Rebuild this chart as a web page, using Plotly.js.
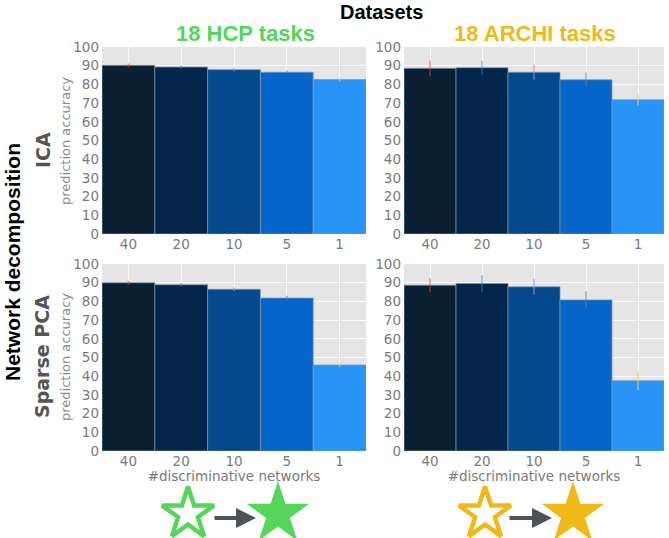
<!DOCTYPE html>
<html>
<head>
<meta charset="utf-8">
<script src="https://cdn.plot.ly/plotly-3.0.1.min.js"></script>
<style>html,body{margin:0;padding:0;background:#fff;}#chart{width:669px;height:538px;}</style>
</head>
<body>
<div id="chart"></div>
<script>
const categories = ["40", "20", "10", "5", "1"];
const hcpIca = [90.2, 89.3, 87.9, 86.5, 82.6];
const hcpIcaErr = [1.0, 0.8, 0.9, 0.9, 1.0];
const archiIca = [88.6, 88.9, 86.5, 82.5, 71.8];
const archiIcaErr = [4.2, 3.8, 4.0, 3.8, 3.0];
const hcpSpca = [90.0, 88.9, 86.5, 81.8, 46.0];
const hcpSpcaErr = [1.0, 0.9, 1.0, 1.2, 1.2];
const archiSpca = [88.7, 89.6, 87.8, 80.8, 37.6];
const archiSpcaErr = [3.8, 4.4, 4.3, 4.6, 5.0];
const barColors = ["#0b1f33", "#03264a", "#03498b", "#0565c8", "#2894f7"];
const errColors = ["rgba(226,74,51,0.55)", "rgba(52,138,189,0.55)", "rgba(152,142,213,0.7)", "rgba(119,119,119,0.6)", "rgba(251,193,94,0.7)"];
const yTicks = [0, 10, 20, 30, 40, 50, 60, 70, 80, 90, 100];
const xTitle = "#discriminative networks";
const yTitle = "prediction accuracy";

const W = 669, H = 538;
const panels = [
  {vals: hcpIca, err: hcpIcaErr, xa: "x", ya: "y"},
  {vals: archiIca, err: archiIcaErr, xa: "x2", ya: "y2"},
  {vals: hcpSpca, err: hcpSpcaErr, xa: "x3", ya: "y3"},
  {vals: archiSpca, err: archiSpcaErr, xa: "x4", ya: "y4"}
];
const traces = [];
panels.forEach(p => {
  traces.push({
    type: "bar", x: categories, y: p.vals, xaxis: p.xa, yaxis: p.ya,
    marker: {color: barColors, line: {color: "rgba(130,150,175,0.7)", width: 1}},
    showlegend: false, hoverinfo: "skip"
  });
  categories.forEach((c, i) => {
    traces.push({
      type: "scatter", mode: "markers", x: [c], y: [p.vals[i]], xaxis: p.xa, yaxis: p.ya,
      marker: {opacity: 0, size: 1},
      error_y: {type: "data", array: [p.err[i]], visible: true, color: errColors[i], thickness: 1.5, width: 0},
      showlegend: false, hoverinfo: "skip"
    });
  });
});

// decorative stars (pixel positions on an overlay axis in the bottom strip)
const starX = [188, 278, 485, 573];
const starY = [514, 514, 514, 514];
const starFill = ["#ffffff", "#55d65a", "#ffffff", "#f0b917"];
const starLine = ["#55d65a", "#55d65a", "#f0b917", "#f0b917"];
const starLineW = [4.5, 0, 4.5, 0];
traces.push({
  type: "scatter", mode: "markers", x: starX, y: starY, xaxis: "x5", yaxis: "y5",
  marker: {symbol: "star", size: [39, 47, 39, 47], color: starFill, opacity: 1, line: {color: starLine, width: starLineW}},
  showlegend: false, hoverinfo: "skip", cliponaxis: false
});

const tickFont = {family: "DejaVu Sans, sans-serif", size: 13.5, color: "#7a7a7a"};
function xax(dom, anchor, withTitle) {
  const a = {domain: dom, anchor: anchor, type: "category", range: [-0.5, 4.5],
    showgrid: true, gridcolor: "rgba(255,255,255,0.8)", gridwidth: 1, zeroline: false,
    ticks: "", tickfont: tickFont, showline: false, fixedrange: true};
  if (withTitle) a.title = {text: xTitle, font: {family: "DejaVu Sans, sans-serif", size: 13.5, color: "#7a7a7a"}, standoff: 2};
  return a;
}
function yax(dom, anchor) {
  return {domain: dom, anchor: anchor, range: [0, 100], tickvals: yTicks,
    showgrid: true, gridcolor: "rgba(255,255,255,0.8)", gridwidth: 1, zeroline: false,
    ticks: "", tickfont: tickFont, showline: false, fixedrange: true, ticklabelstandoff: 2};
}
const xL = [102 / W, 366 / W], xR = [404 / W, 664 / W];
const yT = [1 - 234 / H, 1 - 47 / H], yB = [1 - 451 / H, 1 - 264 / H];
const stripTop = 482;

const shapes = [["x", "y"], ["x2", "y2"], ["x3", "y3"], ["x4", "y4"]].map(a => ({
  type: "rect", xref: a[0] + " domain", yref: a[1] + " domain", x0: 0, x1: 1, y0: 0, y1: 1,
  fillcolor: "#e5e5e5", line: {width: 0}, layer: "below"
}));

const ann = [];
function txt(text, x, y, size, color, family, angle, bold) {
  ann.push({text: bold ? "<b>" + text + "</b>" : text, x: x / W, y: 1 - y / H, xref: "paper", yref: "paper",
    showarrow: false, font: {size: size, color: color, family: family}, textangle: angle || 0,
    xanchor: "center", yanchor: "middle", borderpad: 0});
}
txt("Datasets", 381, 12, 20, "#000000", "Liberation Sans, Arial, sans-serif", 0, true);
txt("18 HCP tasks", 245, 33, 22, "#55d65a", "Liberation Sans, Arial, sans-serif", 0, true);
txt("18 ARCHI tasks", 535, 33, 22, "#f0b917", "Liberation Sans, Arial, sans-serif", 0, true);
txt("Network decomposition", 12, 262, 21, "#000000", "Liberation Sans, Arial, sans-serif", -90, true);
txt("ICA", 43, 150, 19, "#555555", "DejaVu Sans, sans-serif", -90, true);
txt("Sparse PCA", 42, 357, 19, "#555555", "DejaVu Sans, sans-serif", -90, true);
txt(yTitle, 65, 141, 13, "#8a8a8a", "DejaVu Sans, sans-serif", -90, false);
txt(yTitle, 65, 357, 13, "#8a8a8a", "DejaVu Sans, sans-serif", -90, false);
// arrows between stars
[[213, 256], [508, 552]].forEach(a => {
  ann.push({x: a[1], y: 518, ax: a[0], ay: 518, xref: "x5", yref: "y5", axref: "x5", ayref: "y5",
    text: "", showarrow: true, arrowhead: 2, arrowsize: 1, arrowwidth: 4, arrowcolor: "#4e5359"});
});

const layout = {
  width: W, height: H, margin: {l: 0, r: 0, t: 0, b: 0},
  paper_bgcolor: "#ffffff", plot_bgcolor: "rgba(0,0,0,0)",
  bargap: 0, showlegend: false,
  xaxis: xax(xL, "y", false), yaxis: yax(yT, "x"),
  xaxis2: xax(xR, "y2", false), yaxis2: yax(yT, "x2"),
  xaxis3: xax(xL, "y3", true), yaxis3: yax(yB, "x3"),
  xaxis4: xax(xR, "y4", true), yaxis4: yax(yB, "x4"),
  xaxis5: {domain: [0, 1], range: [0, W], visible: false, anchor: "y5", fixedrange: true, showgrid: false},
  yaxis5: {domain: [0, 1 - stripTop / H], range: [H, stripTop], visible: false, anchor: "x5", fixedrange: true, showgrid: false},
  shapes: shapes,
  annotations: ann
};
Plotly.newPlot("chart", traces, layout, {staticPlot: true, displayModeBar: false});
</script>
</body>
</html>
